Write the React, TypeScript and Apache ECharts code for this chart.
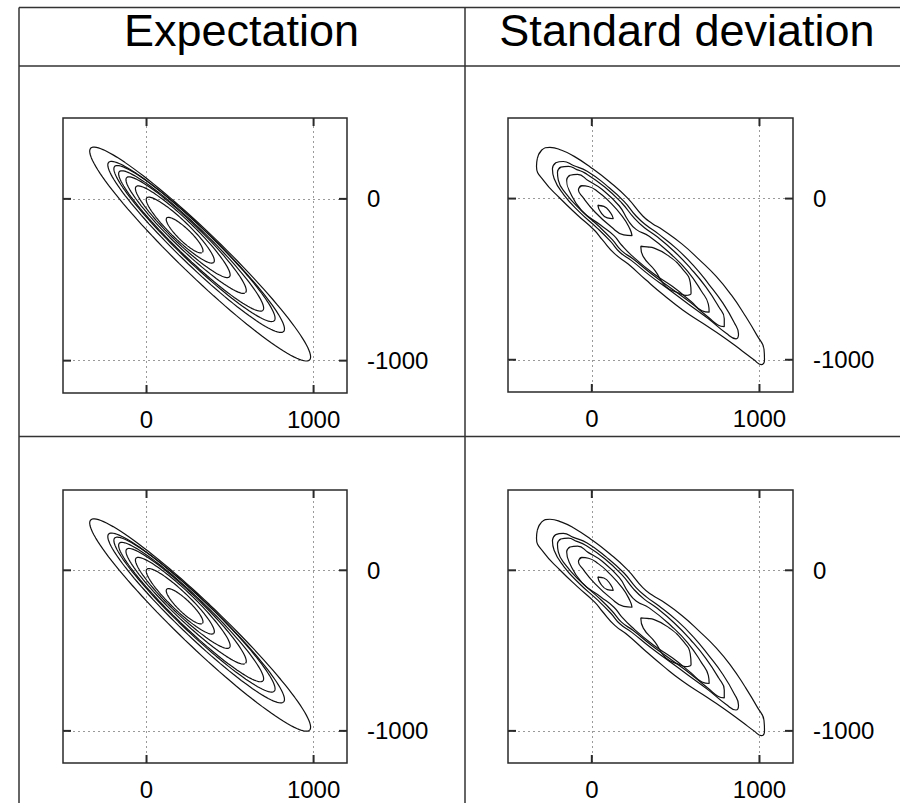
import React, { useEffect, useRef } from "react";
import * as echarts from "echarts";

// ---------- texts / ticks ----------
const headerTitles = ["Expectation", "Standard deviation"];
const xTickValues = [0, 1000];
const yTickValues = [0, -1000];
const xRange = [-500, 1200];
const yRange = [-1200, 500];

// ---------- "Expectation" contours: rotated ellipses ----------
const expCenterX = [321, 297, 287, 267, 237, 217, 202, 228];
const expCenterY = [-341, -297, -276, -260, -224, -203, -193, -224];
const expHalfLength = [926, 740, 675, 607, 503, 395, 283, 151];
const expHalfWidth = [130, 108, 100, 91, 80, 69, 56, 38];
const expAxisAngleDeg = -45;

// ---------- "Standard deviation" contours: points ----------
const sdContourA = [
  [-325, 250], [-300, 300], [-250, 318], [-180, 300], [-110, 265], [-8, 195], [107, 103],
  [212, 4], [304, -108], [360, -154], [422, -193], [537, -281], [642, -380], [742, -483],
  [832, -598], [912, -722], [987, -852], [1027, -935], [1030, -1000], [1010, -1030],
  [967, -1000], [897, -945], [782, -857], [662, -774], [542, -691], [430, -600],
  [322, -504], [217, -406], [137, -343], [62, -255], [17, -198], [-88, -100], [-190, 2],
  [-286, 110], [-330, 200],
];
const sdContourB = [
  [-235, 185], [-215, 222], [-170, 230], [-110, 205], [-28, 170], [87, 82], [192, -17],
  [264, -108], [327, -167], [397, -219], [507, -312], [607, -416], [697, -530],
  [782, -649], [850, -770], [875, -840], [860, -870], [802, -836], [692, -743],
  [577, -655], [462, -566], [347, -478], [237, -385], [167, -333], [112, -266],
  [32, -183], [-73, -84], [-168, 25], [-225, 125],
];
const sdContourC = [
  [-205, 165], [-185, 195], [-140, 200], [-90, 180], [-40, 158], [77, 72], [180, -29],
  [252, -120], [314, -181], [384, -232], [492, -328], [590, -434], [680, -548],
  [755, -668], [790, -745], [790, -795], [752, -784], [697, -738], [587, -644],
  [472, -556], [357, -468], [247, -375], [177, -323], [122, -255], [42, -172],
  [-63, -74], [-158, 35], [-200, 115],
];
const sdContourD = [
  [-150, 115], [-130, 145], [-85, 150], [-20, 110], [62, 56], [164, -46], [217, -136],
  [264, -191], [342, -234], [474, -347], [572, -452], [654, -575], [695, -655],
  [700, -705], [657, -696], [592, -639], [482, -546], [367, -465], [237, -352],
  [177, -288], [132, -230], [54, -166], [-60, -75], [-135, 50],
];
const sdIslandUpper = [
  [-80, 55], [-60, 80], [-20, 75], [40, 40], [97, -11], [182, -110], [227, -188],
  [240, -230], [190, -225], [115, -175], [20, -85], [-55, 10],
];
const sdIslandLower = [
  [292, -297], [330, -300], [372, -307], [462, -359], [544, -440], [587, -520],
  [592, -587], [560, -600], [522, -587], [442, -546], [377, -447], [307, -360],
];
const sdPeakUpper = [
  [36, -42], [72, -48], [112, -89], [128, -125], [92, -120], [52, -83],
];
const sdContours = [
  sdContourA, sdContourB, sdContourC, sdContourD, sdIslandUpper, sdIslandLower, sdPeakUpper,
];

const FONT = "'Liberation Sans', Arial, Helvetica, sans-serif";
const LINE = "#2a2a2a";
const TICK_PX = 8;

function ellipsePoints(i: number): number[][] {
  const phi = (expAxisAngleDeg * Math.PI) / 180;
  const ux = Math.cos(phi), uy = Math.sin(phi);
  const vx = -uy, vy = ux;
  const pts: number[][] = [];
  const n = 120;
  for (let k = 0; k <= n; k++) {
    const th = (2 * Math.PI * k) / n;
    const s = expHalfLength[i] * Math.cos(th);
    const t = expHalfWidth[i] * Math.sin(th);
    pts.push([expCenterX[i] + s * ux + t * vx, expCenterY[i] + s * uy + t * vy]);
  }
  return pts;
}

// close a ring; wrap one extra point so the smoothing continues over the seam
function closed(p: number[][]) {
  return [...p, p[0], p[1]];
}

const gridBoxes = [
  { left: 63, top: 118, width: 284, height: 275 },
  { left: 508, top: 118, width: 285, height: 274 },
  { left: 63, top: 490, width: 284, height: 273 },
  { left: 508, top: 490, width: 285, height: 273 },
];
const panelKind = ["exp", "sd", "exp", "sd"];

export default function App() {
  const ref = useRef<HTMLDivElement>(null);
  useEffect(() => {
    if (!ref.current) return;
    const chart = echarts.init(ref.current, undefined, { renderer: "svg" });

    const grids: any[] = [];
    const xAxes: any[] = [];
    const yAxes: any[] = [];
    const series: any[] = [];
    const tickGraphics: any[] = [];
    const fmt = (v: number) => String(v);

    const tick = (x1: number, y1: number, x2: number, y2: number) => ({
      type: "line",
      shape: { x1, y1, x2, y2 },
      style: { stroke: LINE, lineWidth: 2 },
      silent: true,
      z: 100,
    });

    gridBoxes.forEach((g, gi) => {
      grids.push({
        ...g,
        show: true,
        borderColor: LINE,
        borderWidth: 1.5,
        backgroundColor: "transparent",
      });
      xAxes.push({
        type: "value",
        gridIndex: gi,
        min: xRange[0],
        max: xRange[1],
        position: "bottom",
        axisLine: { show: false, onZero: false },
        splitLine: { show: false },
        axisTick: { show: false },
        axisLabel: {
          show: true,
          customValues: xTickValues,
          formatter: fmt,
          fontSize: 24,
          color: "#000",
          fontFamily: FONT,
          margin: 14,
        },
      });
      yAxes.push({
        type: "value",
        gridIndex: gi,
        min: yRange[0],
        max: yRange[1],
        position: "right",
        axisLine: { show: false, onZero: false },
        splitLine: { show: false },
        axisTick: { show: false },
        axisLabel: {
          show: true,
          customValues: yTickValues,
          formatter: fmt,
          fontSize: 24,
          color: "#000",
          fontFamily: FONT,
          margin: 20,
          align: "left",
        },
      });

      const isExp = panelKind[gi] === "exp";
      const contours: number[][][] = isExp
        ? expCenterX.map((_, i) => ellipsePoints(i))
        : sdContours.map((c) => closed(c));

      contours.forEach((pts, ci) => {
        const s: any = {
          type: "line",
          xAxisIndex: gi,
          yAxisIndex: gi,
          data: pts,
          showSymbol: false,
          symbol: "none",
          smooth: isExp ? false : 0.5,
          smoothMonotone: "none",
          lineStyle: { color: "#111", width: 1.2 },
          silent: true,
          z: 3,
        };
        if (ci === 0) {
          s.markLine = {
            silent: true,
            symbol: ["none", "none"],
            label: { show: false },
            lineStyle: { color: "#9a9a9a", width: 1, type: [2, 3] },
            data: [
              ...xTickValues.map((v) => ({ xAxis: v })),
              ...yTickValues.map((v) => ({ yAxis: v })),
            ],
            z: 1,
          };
        }
        series.push(s);
      });

      // inward tick marks on the four sides of the frame, at the tick values
      const bottom = g.top + g.height;
      const right = g.left + g.width;
      xTickValues.forEach((v) => {
        const px = g.left + ((v - xRange[0]) / (xRange[1] - xRange[0])) * g.width;
        tickGraphics.push(tick(px, bottom, px, bottom - TICK_PX));
        tickGraphics.push(tick(px, g.top, px, g.top + TICK_PX));
      });
      yTickValues.forEach((v) => {
        const py = g.top + ((yRange[1] - v) / (yRange[1] - yRange[0])) * g.height;
        tickGraphics.push(tick(g.left, py, g.left + TICK_PX, py));
        tickGraphics.push(tick(right, py, right - TICK_PX, py));
      });
    });

    const tableLine = (x1: number, y1: number, x2: number, y2: number) => ({
      type: "line",
      shape: { x1, y1, x2, y2 },
      style: { stroke: "#333", lineWidth: 1.5 },
      silent: true,
    });

    const option: any = {
      animation: false,
      backgroundColor: "#fff",
      grid: grids,
      xAxis: xAxes,
      yAxis: yAxes,
      series,
      graphic: [
        tableLine(19, 7.5, 900, 7.5),
        tableLine(19, 7.5, 19, 803),
        tableLine(465, 7.5, 465, 803),
        tableLine(19, 66, 900, 66),
        tableLine(19, 436.5, 900, 436.5),
        {
          type: "text",
          x: 241.5,
          y: 30,
          style: {
            text: headerTitles[0],
            fontSize: 45,
            fontFamily: FONT,
            fill: "#000",
            align: "center",
            verticalAlign: "middle",
          },
        },
        {
          type: "text",
          x: 687,
          y: 30,
          style: {
            text: headerTitles[1],
            fontSize: 45,
            fontFamily: FONT,
            fill: "#000",
            align: "center",
            verticalAlign: "middle",
          },
        },
        ...tickGraphics,
      ],
    };
    chart.setOption(option);
    return () => chart.dispose();
  }, []);

  return (
    <div
      ref={ref}
      style={{ position: "fixed", left: 0, top: 0, width: 900, height: 803, background: "#fff" }}
    />
  );
}
